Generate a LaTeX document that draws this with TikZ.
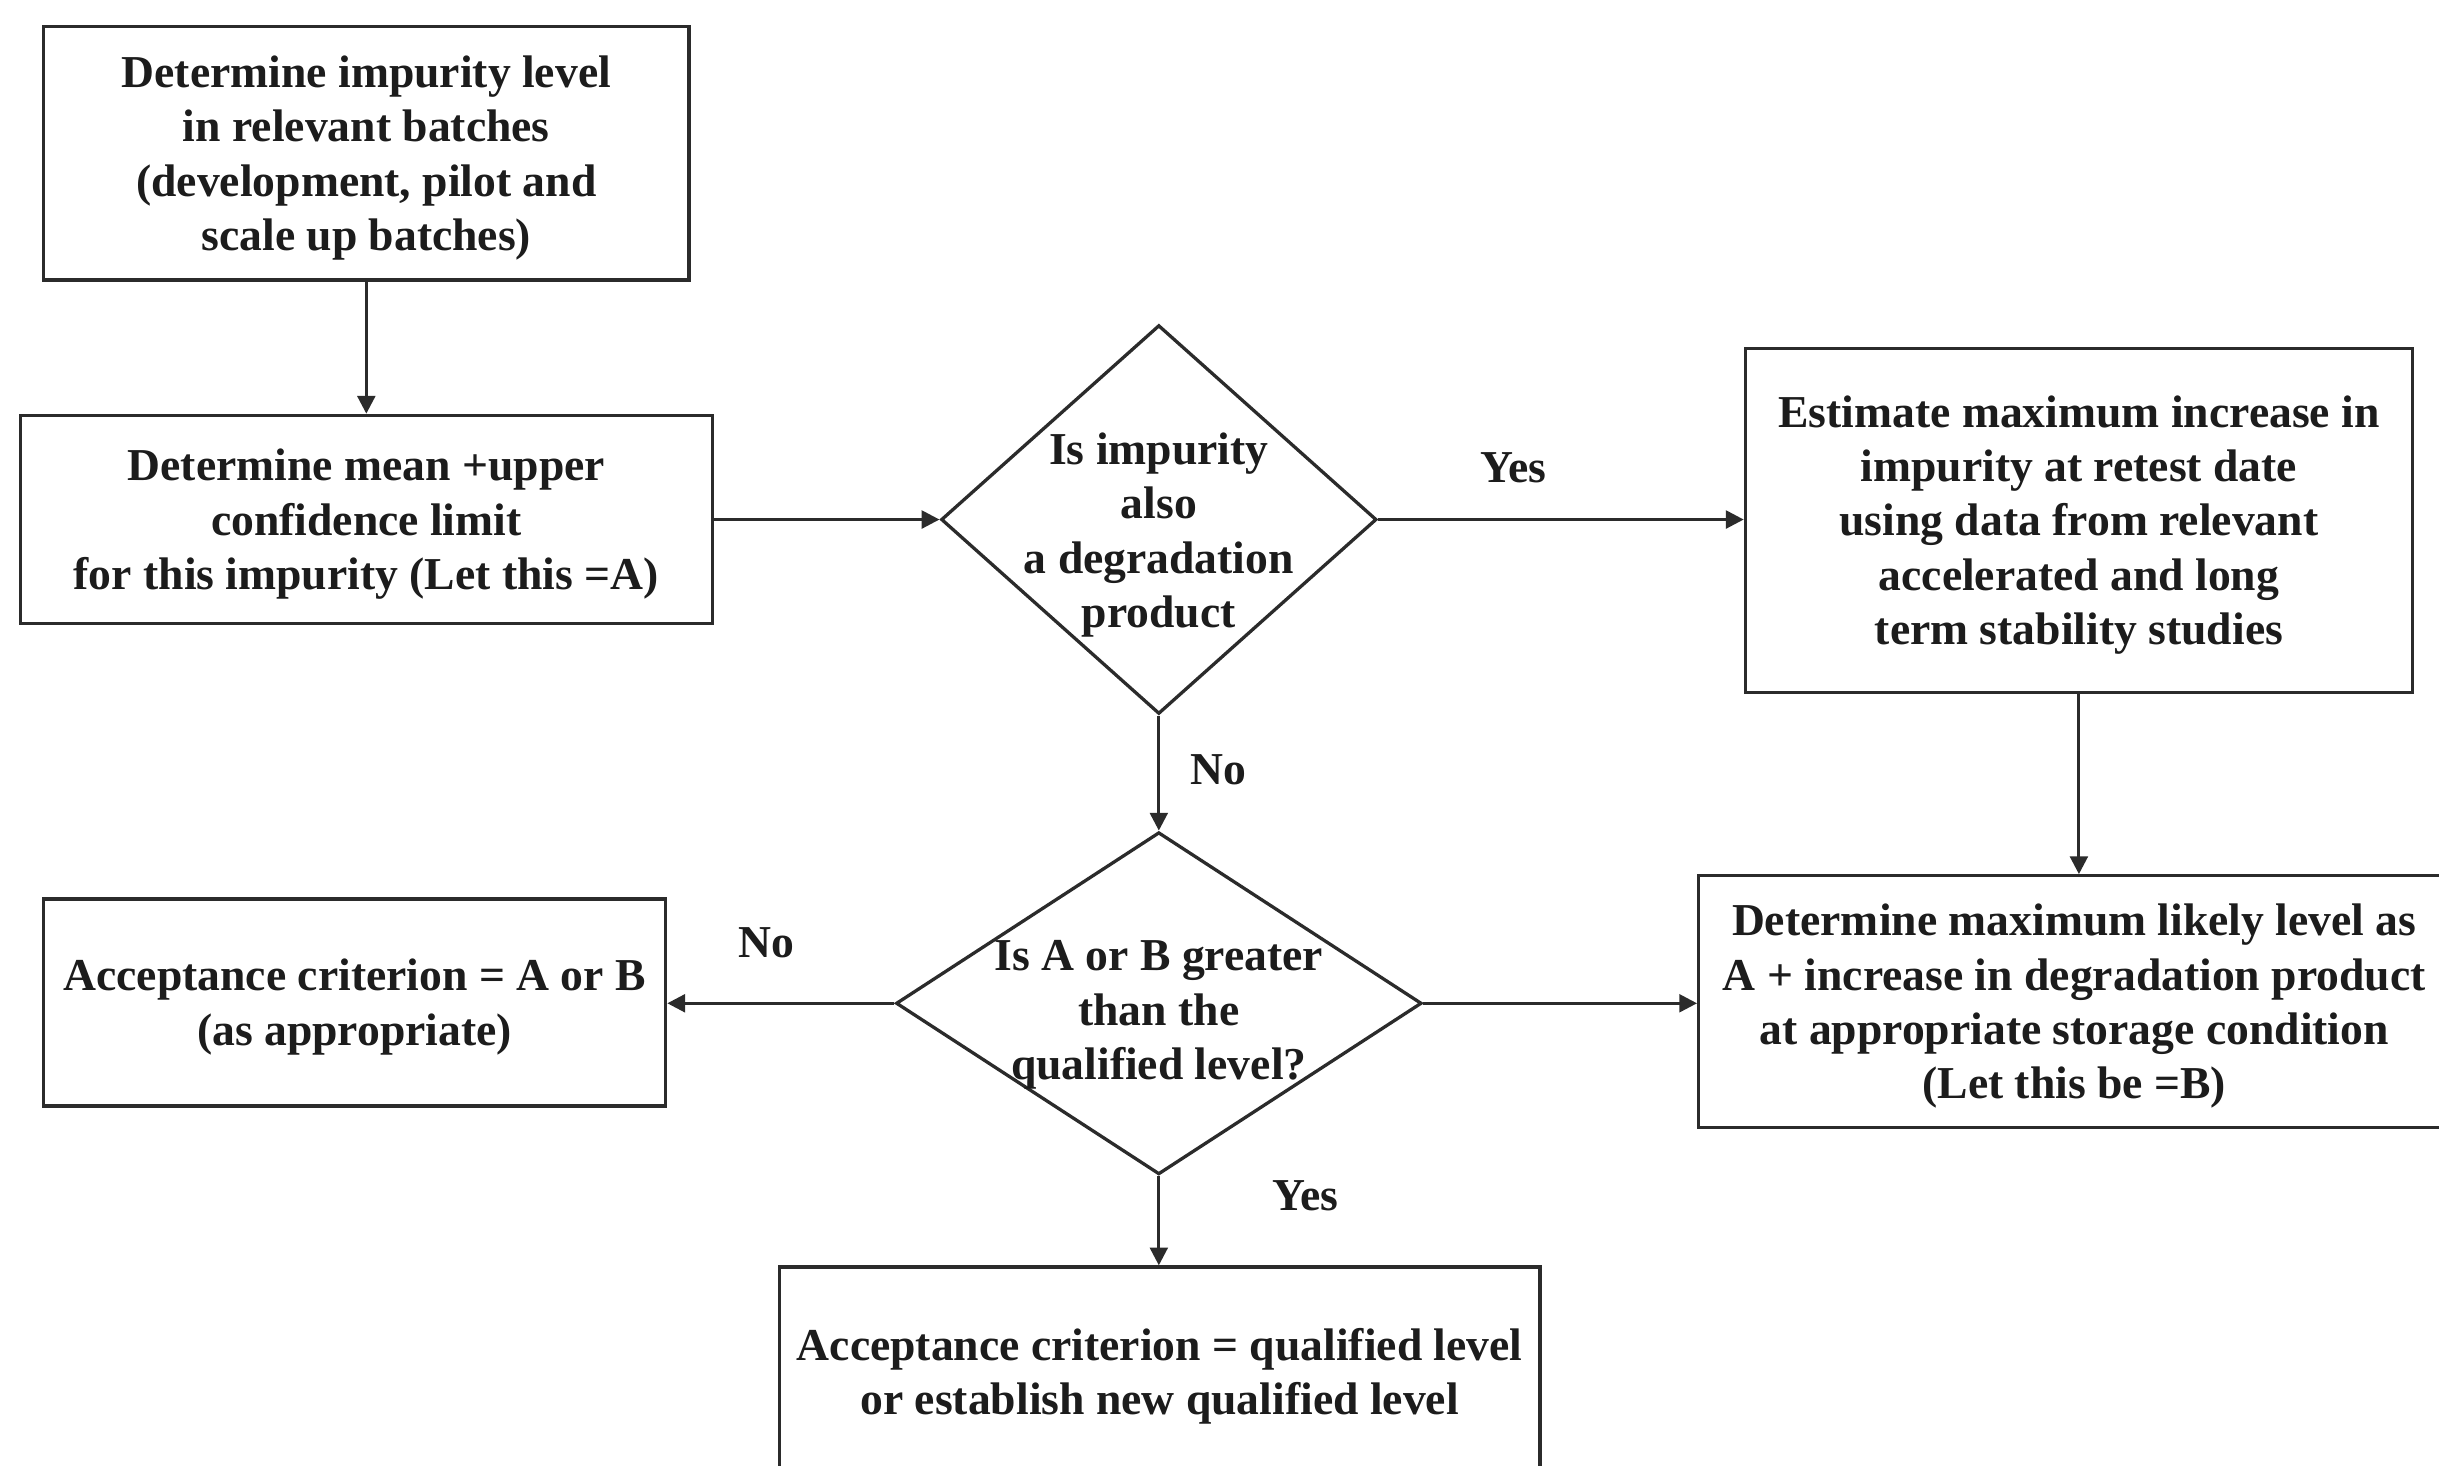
\documentclass[tikz,border=0pt]{standalone}
\usepackage{fontspec}
\setmainfont{Liberation Serif}
\usetikzlibrary{shapes.geometric,arrows.meta}
\definecolor{ink}{HTML}{2B2B2B}
\definecolor{txt}{HTML}{1C1C1C}
% a tall strut on the first line sets a block of text slightly lower
\newcommand{\toprise}{\rule{0pt}{15pt}}
\begin{document}
\begin{tikzpicture}[x=0.02cm,y=-0.02cm,
  every node/.style={text=txt,font=\bfseries\fontsize{16.7}{19.9}\selectfont,align=center},
  procbox/.style={draw=ink,line width=1.2pt,rectangle,inner sep=0pt},
  decision/.style={draw=ink,line width=1.2pt,diamond,inner sep=0pt},
  flow/.style={draw=ink,line width=1.1pt,-{Triangle[length=6.5pt,width=6.5pt]}},
  answer/.style={inner sep=0pt}]
  \useasboundingbox (0,0) rectangle (1568,942);
  \clip (0,0) rectangle (1568,942);
  \fill[white] (0,0) rectangle (1568,942);

  % process boxes
  \node[procbox,minimum width=8.3cm,minimum height=3.26cm] (batches) at (235.5,98.5)
    {\toprise Determine impurity level\\in relevant batches\\(development, pilot and\\scale up batches)};
  \node[procbox,minimum width=8.9cm,minimum height=2.68cm] (meanA) at (235.5,334)
    {\toprise Determine mean +upper\\confidence limit\\for this impurity (Let this =A)};
  \node[procbox,minimum width=8.58cm,minimum height=4.42cm] (estimate) at (1336.5,334.5)
    {\toprise Estimate maximum increase in\\impurity at retest date\\using data from relevant\\accelerated and long\\term stability studies};
  \node[procbox,minimum width=9.66cm,minimum height=3.24cm] (levelB) at (1333.5,644)
    {\toprise Determine maximum likely level as\\A + increase in degradation product\\at appropriate storage condition\\(Let this be =B)};
  \node[procbox,minimum width=8.0cm,minimum height=2.66cm] (critAB) at (228,644.5)
    {\toprise Acceptance criterion = A or B\\(as appropriate)};
  \node[procbox,minimum width=9.78cm,minimum height=2.7cm] (critQ) at (745.5,882)
    {\toprise Acceptance criterion = qualified level\\or establish new qualified level};

  % decisions
  \node[decision,minimum width=5.6cm,minimum height=5.0cm] (degr) at (745,334) {};
  \node at (745,341) {\toprise Is impurity\\also\\a degradation\\product};
  \node[decision,minimum width=6.76cm,minimum height=4.4cm] (greater) at (745,645) {};
  \node at (745,649) {\toprise Is A or B greater\\than the\\qualified level?};

  % connectors
  \draw[flow] (batches.south) -- (meanA.north);
  \draw[flow] (meanA.east) -- (degr.west);
  \draw[flow] (degr.east) -- (degr.east -| estimate.west);
  \draw[flow] (estimate.south) -- (estimate.south |- levelB.north);
  \draw[flow] (degr.south) -- (greater.north);
  \draw[flow] (greater.east) -- (greater.east -| levelB.west);
  \draw[flow] (greater.west) -- (greater.west -| critAB.east);
  \draw[flow] (greater.south) -- (greater.south |- critQ.north);

  % branch labels
  \node[answer] (yes1) at (973,301) {Yes};
  \node[answer] (no1) at (783,495) {No};
  \node[answer] (no2) at (493,606) {No};
  \node[answer] (yes2) at (839,769) {Yes};
\end{tikzpicture}
\end{document}
